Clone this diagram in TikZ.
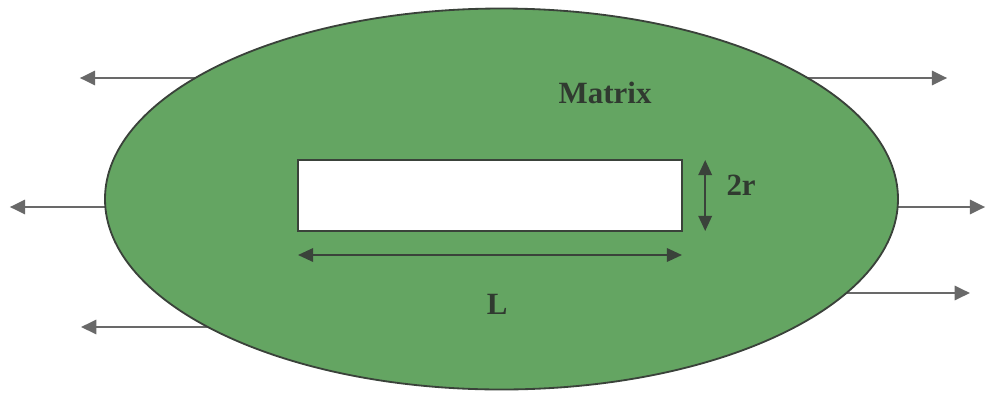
\documentclass[tikz,border=0pt]{standalone}
\usepackage{fontspec}
\setmainfont{Liberation Serif}
\usepackage{xcolor}
\usetikzlibrary{arrows.meta}
\usetikzlibrary{math}
\usetikzlibrary{shapes.geometric}

\definecolor{matrixgreen}{RGB}{100,165,98}
\definecolor{edgegray}{RGB}{58,66,58}
\definecolor{pullgray}{RGB}{105,105,105}
\definecolor{labelgray}{RGB}{48,58,48}

\tikzset{
pull/.style={-{Triangle[length=0.38cm,width=0.36cm]}, color=pullgray, line width=1.3},
dim/.style={{Triangle[length=0.38cm,width=0.34cm]}-{Triangle[length=0.38cm,width=0.34cm]}, color=edgegray, line width=1.3},
lbl/.style={font=\fontsize{22}{26}\selectfont\bfseries, text=labelgray, inner sep=0},
}

\begin{document}
\begin{tikzpicture}
\tikzmath{
\rx=9.9125;
\ry=4.7625;
}
\useasboundingbox (-12.5375,-4.825) rectangle (12.1625,4.975);

% loads pulling on the matrix (they start under the matrix fill)
\coordinate (tipLT) at (-10.54,3.025);
\coordinate (tipLM) at (-12.29,-0.2);
\coordinate (tipLB) at (-10.51,-3.2);
\coordinate (tipRT) at (11.14,3.025);
\coordinate (tipRM) at (12.09,-0.2);
\coordinate (tipRB) at (11.71,-2.35);
\foreach \tip/\sx in {LT/-6,LM/-6,LB/-6,RT/6,RM/6,RB/6}{
\coordinate (foot\tip) at (\sx,0 |- tip\tip);
\draw[pull] (foot\tip) -- (tip\tip);
}

\node[ellipse, draw=edgegray, fill=matrixgreen, line width=1.3, inner sep=0, outer sep=0,
  minimum width=2*\rx*1cm, minimum height=2*\ry*1cm] (body) at (0,0) {};

\node[draw=edgegray, fill=white, line width=1.3, inner sep=0, outer sep=0,
  minimum width=9.6cm, minimum height=1.775cm] (hole) at (-0.2875,0.0875) {};

% dimensions of the fibre
\draw[dim] ([xshift=0.58cm]hole.north east) -- ([xshift=0.58cm]hole.south east);
\draw[dim] ([yshift=-0.6cm]hole.south west) -- ([yshift=-0.6cm]hole.south east);

\node[lbl] (twor) at (5.99,0.35) {2r};
\node[lbl] (len) at (-0.11,-2.625) {L};
\node[lbl] (mtx) at (2.59,2.66) {Matrix};

\end{tikzpicture}
\end{document}
